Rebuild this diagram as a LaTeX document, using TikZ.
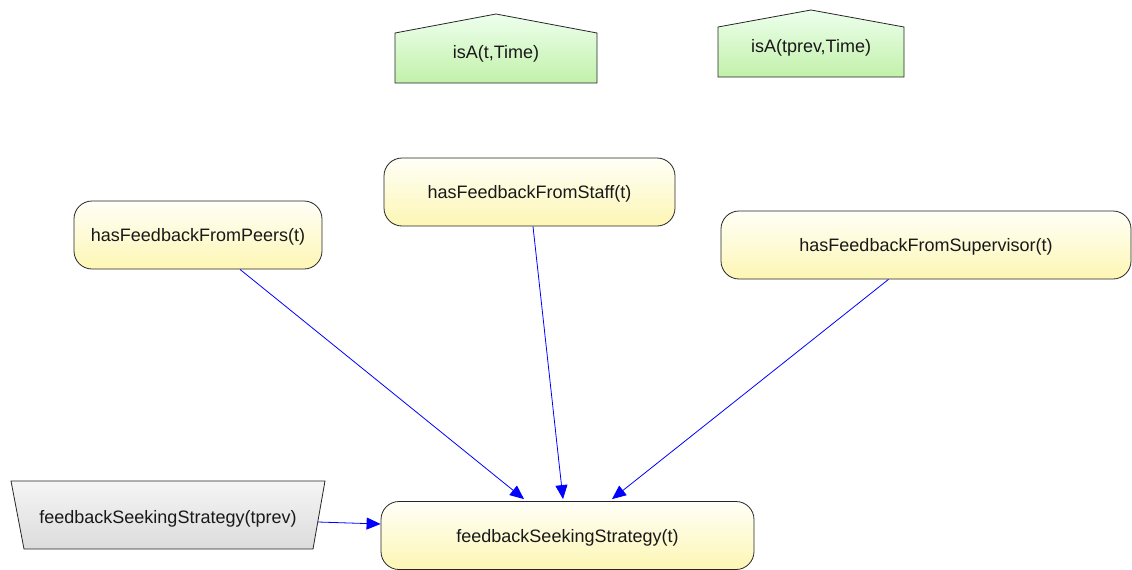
\documentclass[tikz,border=0pt]{standalone}
\usepackage{fontspec}
\setmainfont{Liberation Sans}
\usetikzlibrary{arrows.meta,calc}

\definecolor{nodeyel}{HTML}{FDF6B4}
\definecolor{nodegreen}{HTML}{C2F1AA}
\definecolor{nodegray}{HTML}{DCDCDC}
\definecolor{linkblue}{HTML}{0000FF}

\tikzset{
  label text/.style={font=\fontsize{18}{20}\selectfont, text=black!90, text depth=0pt},
  evidence/.style={draw=black!85, line width=0.8pt, rounded corners=18pt, top color=yellow!3,
    bottom color=nodeyel, minimum height=68pt, label text},
  previous/.style={draw=black!85, line width=0.8pt, top color=gray!8, bottom color=nodegray},
  condition/.style={draw=black!85, line width=0.8pt, top color=green!7, bottom color=nodegreen},
  link/.style={linkblue, line width=0.8pt, -{Triangle[length=14pt,width=12pt]}}
}

\begin{document}
\begin{tikzpicture}[x=1pt,y=-1pt]
  \useasboundingbox (0,0) rectangle (1132,570);
  % time conditions
  \shade[condition] (395,83) -- (395,33) -- (496,14) -- (597,33) -- (597,83) -- cycle;
  \node[label text] (isAt) at (496,52) {isA(t,Time)};
  \shade[condition] (718,77) -- (718,27) -- (811,10) -- (904,27) -- (904,77) -- cycle;
  \node[label text] (isAtprev) at (811,46) {isA(tprev,Time)};
  % previous time slice
  \shade[previous] (11,481) -- (325,481) -- (313,549) -- (24,549) -- cycle;
  \node[label text] (fsprev) at (168,517) {feedbackSeekingStrategy(tprev)};
  \coordinate (fsprevout) at (318,522);
  % parents
  \node[evidence, minimum width=248pt] (peers) at (198,235) {hasFeedbackFromPeers(t)};
  \node[evidence, minimum width=291pt] (staff) at (529.5,192) {hasFeedbackFromStaff(t)};
  \node[evidence, minimum width=410pt] (supervisor) at (926,245) {hasFeedbackFromSupervisor(t)};
  \node[evidence, minimum width=373pt] (fs) at (567.5,535.5) {feedbackSeekingStrategy(t)};
  % links
  \draw[link] ([xshift=42pt]peers.south) -- ([xshift=-43.5pt,yshift=2pt]fs.north);
  \draw[link] ([xshift=3.5pt]staff.south) -- ([xshift=-4.5pt,yshift=2pt]fs.north);
  \draw[link] ([xshift=-37.5pt]supervisor.south) -- ([xshift=44.5pt,yshift=2pt]fs.north);
  \draw[link] (fsprevout) -- ([yshift=11.5pt]fs.west);
\end{tikzpicture}
\end{document}
